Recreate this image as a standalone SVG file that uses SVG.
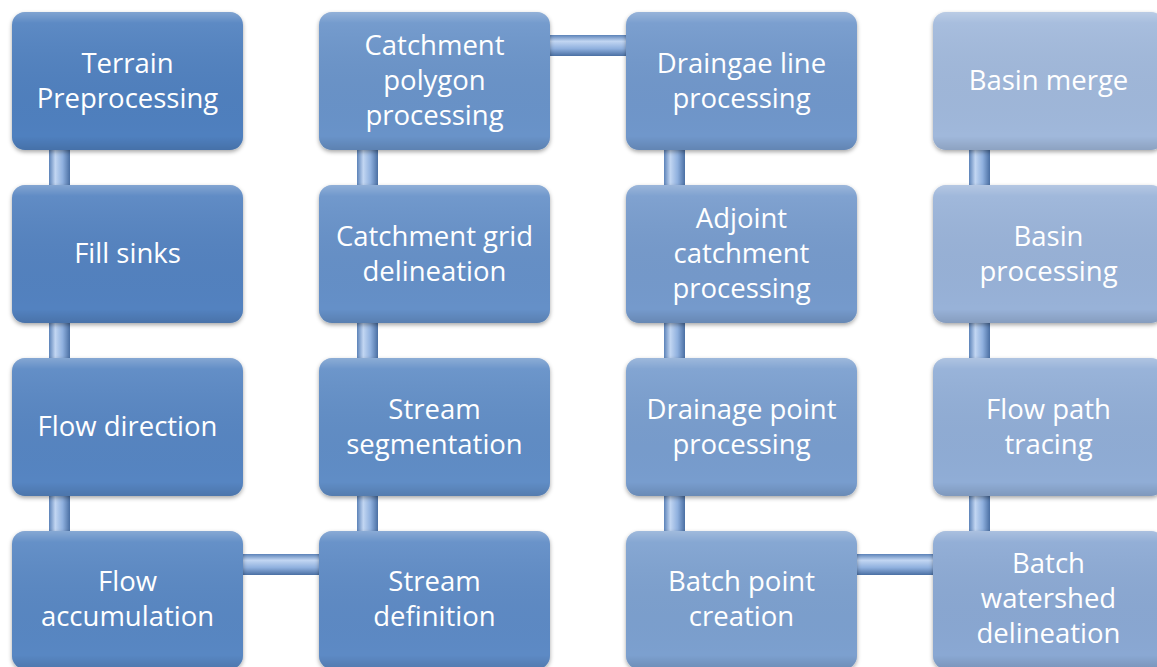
<svg xmlns="http://www.w3.org/2000/svg" width="1157" height="667" viewBox="0 0 1157 667">
<defs>
<linearGradient id="gloss" x1="0" y1="0" x2="0" y2="1">
<stop offset="0" stop-color="#ffffff" stop-opacity="0.28"/>
<stop offset="0.08" stop-color="#ffffff" stop-opacity="0.08"/>
<stop offset="0.9" stop-color="#000000" stop-opacity="0.0"/>
<stop offset="1" stop-color="#000000" stop-opacity="0.12"/>
</linearGradient>
<linearGradient id="pipeV" x1="0" y1="0" x2="1" y2="0">
<stop offset="0" stop-color="#5b82b8"/>
<stop offset="0.3" stop-color="#c2d6f2"/>
<stop offset="0.65" stop-color="#8fb0de"/>
<stop offset="1" stop-color="#4a6fa3"/>
</linearGradient>
<linearGradient id="pipeH" x1="0" y1="0" x2="0" y2="1">
<stop offset="0" stop-color="#5b82b8"/>
<stop offset="0.3" stop-color="#c2d6f2"/>
<stop offset="0.65" stop-color="#8fb0de"/>
<stop offset="1" stop-color="#4a6fa3"/>
</linearGradient>
<filter id="sh" x="-10%" y="-10%" width="120%" height="125%">
<feDropShadow dx="0" dy="2" stdDeviation="2" flood-color="#000" flood-opacity="0.35"/>
</filter>
</defs>
<style>
.box{stroke:none;filter:url(#sh)}
.gl{fill:url(#gloss)}
.t{font-family:"Open Sans","Noto Sans","DejaVu Sans",sans-serif;font-size:27.5px;fill:#ffffff;text-anchor:middle}
</style>
<rect width="1157" height="667" fill="#ffffff"/>
<g id="connectors">
<rect x="49" y="80" width="21" height="520" fill="url(#pipeV)"/>
<rect x="357" y="80" width="21" height="520" fill="url(#pipeV)"/>
<rect x="664" y="80" width="21" height="520" fill="url(#pipeV)"/>
<rect x="969" y="80" width="21" height="520" fill="url(#pipeV)"/>
<rect x="150" y="554" width="250" height="21" fill="url(#pipeH)"/>
<rect x="460" y="35" width="250" height="21" fill="url(#pipeH)"/>
<rect x="760" y="554" width="250" height="21" fill="url(#pipeH)"/>
</g>
<g id="n1"><rect class="box" x="12" y="12" width="231" height="138" rx="13" fill="#4f80bf"/><rect class="gl" x="12" y="12" width="231" height="138" rx="13"/><text class="t" x="127.5" y="73">Terrain</text><text class="t" x="127.5" y="108">Preprocessing</text></g>
<g id="n2"><rect class="box" x="12" y="185" width="231" height="138" rx="13" fill="#5382c0"/><rect class="gl" x="12" y="185" width="231" height="138" rx="13"/><text class="t" x="127.5" y="263">Fill sinks</text></g>
<g id="n3"><rect class="box" x="12" y="358" width="231" height="138" rx="13" fill="#5685c2"/><rect class="gl" x="12" y="358" width="231" height="138" rx="13"/><text class="t" x="127.5" y="436">Flow direction</text></g>
<g id="n4"><rect class="box" x="12" y="531" width="231" height="138" rx="13" fill="#5987c3"/><rect class="gl" x="12" y="531" width="231" height="138" rx="13"/><text class="t" x="127.5" y="591">Flow</text><text class="t" x="127.5" y="626">accumulation</text></g>
<g id="n5"><rect class="box" x="319" y="531" width="231" height="138" rx="13" fill="#5d8ac5"/><rect class="gl" x="319" y="531" width="231" height="138" rx="13"/><text class="t" x="434.5" y="591">Stream</text><text class="t" x="434.5" y="626">definition</text></g>
<g id="n6"><rect class="box" x="319" y="358" width="231" height="138" rx="13" fill="#618dc6"/><rect class="gl" x="319" y="358" width="231" height="138" rx="13"/><text class="t" x="434.5" y="419">Stream</text><text class="t" x="434.5" y="454">segmentation</text></g>
<g id="n7"><rect class="box" x="319" y="185" width="231" height="138" rx="13" fill="#6590c8"/><rect class="gl" x="319" y="185" width="231" height="138" rx="13"/><text class="t" x="434.5" y="246">Catchment grid</text><text class="t" x="434.5" y="281">delineation</text></g>
<g id="n8"><rect class="box" x="319" y="12" width="231" height="138" rx="13" fill="#6993c9"/><rect class="gl" x="319" y="12" width="231" height="138" rx="13"/><text class="t" x="434.5" y="55">Catchment</text><text class="t" x="434.5" y="90">polygon</text><text class="t" x="434.5" y="125">processing</text></g>
<g id="n9"><rect class="box" x="626" y="12" width="231" height="138" rx="13" fill="#7097cb"/><rect class="gl" x="626" y="12" width="231" height="138" rx="13"/><text class="t" x="741.5" y="73">Draingae line</text><text class="t" x="741.5" y="108">processing</text></g>
<g id="n10"><rect class="box" x="626" y="185" width="231" height="138" rx="13" fill="#749acc"/><rect class="gl" x="626" y="185" width="231" height="138" rx="13"/><text class="t" x="741.5" y="228">Adjoint</text><text class="t" x="741.5" y="263">catchment</text><text class="t" x="741.5" y="298">processing</text></g>
<g id="n11"><rect class="box" x="626" y="358" width="231" height="138" rx="13" fill="#789dce"/><rect class="gl" x="626" y="358" width="231" height="138" rx="13"/><text class="t" x="741.5" y="419">Drainage point</text><text class="t" x="741.5" y="454">processing</text></g>
<g id="n12"><rect class="box" x="626" y="531" width="231" height="138" rx="13" fill="#7ca0cf"/><rect class="gl" x="626" y="531" width="231" height="138" rx="13"/><text class="t" x="741.5" y="591">Batch point</text><text class="t" x="741.5" y="626">creation</text></g>
<g id="n13"><rect class="box" x="933" y="531" width="231" height="138" rx="13" fill="#8aa8d3"/><rect class="gl" x="933" y="531" width="231" height="138" rx="13"/><text class="t" x="1048.5" y="573">Batch</text><text class="t" x="1048.5" y="608">watershed</text><text class="t" x="1048.5" y="643">delineation</text></g>
<g id="n14"><rect class="box" x="933" y="358" width="231" height="138" rx="13" fill="#90add6"/><rect class="gl" x="933" y="358" width="231" height="138" rx="13"/><text class="t" x="1048.5" y="419">Flow path</text><text class="t" x="1048.5" y="454">tracing</text></g>
<g id="n15"><rect class="box" x="933" y="185" width="231" height="138" rx="13" fill="#98b2d8"/><rect class="gl" x="933" y="185" width="231" height="138" rx="13"/><text class="t" x="1048.5" y="246">Basin</text><text class="t" x="1048.5" y="281">processing</text></g>
<g id="n16"><rect class="box" x="933" y="12" width="231" height="138" rx="13" fill="#a0b8db"/><rect class="gl" x="933" y="12" width="231" height="138" rx="13"/><text class="t" x="1048.5" y="90">Basin merge</text></g>
</svg>
